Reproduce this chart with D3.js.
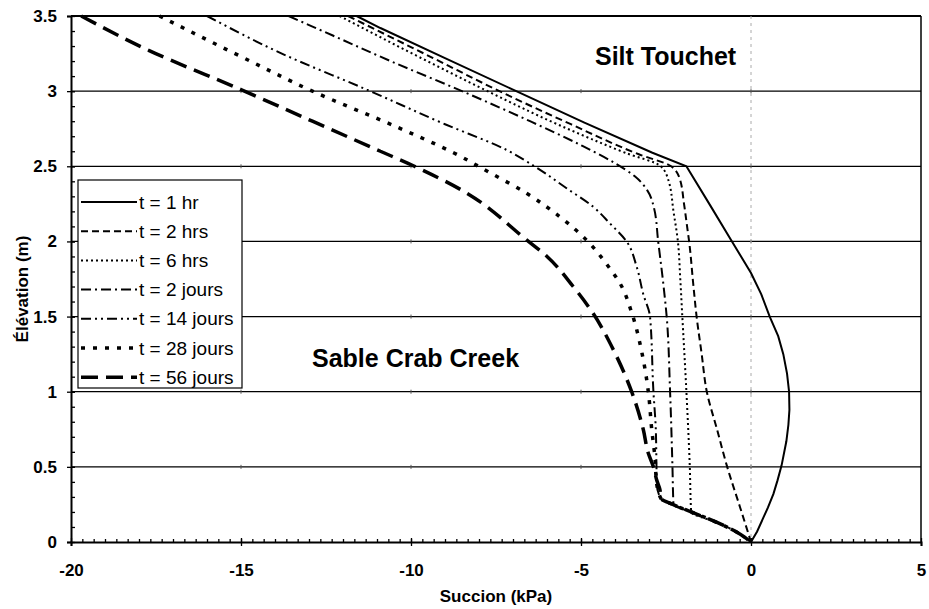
<html>
<script src='https://d3js.org/d3.v7.min.js'></script>
<style>
body { margin: 0; background: white; }
text { font-family: 'Liberation Sans', Arial, sans-serif; }
</style>
<body>
<svg width=929 height=609></svg>
<script>
// succion (kPa), elevation (m)
var t1hr = [[-11.6,3.5],[-10.9,3.42],[-9.0,3.22],[-7.0,3.01],[-4.9,2.79],[-2.9,2.59],[-1.9,2.5],
  [-1.2,2.24],[-0.56,2.0],[0.0,1.79],[0.3,1.65],[0.55,1.5],[0.8,1.37],[0.95,1.25],[1.06,1.12],
  [1.12,1.0],[1.13,0.88],[1.1,0.78],[1.04,0.67],[0.9,0.51],[0.78,0.41],[0.66,0.32],[0.5,0.23],
  [0.36,0.16],[0.18,0.07],[0,0]];
var t2hrs = [[-11.85,3.5],[-9.35,3.22],[-7.4,3.0],[-5.3,2.78],[-3.3,2.58],[-2.35,2.5],[-2.1,2.42],
  [-1.97,2.25],[-1.88,2.1],[-1.82,2.0],[-1.7,1.72],[-1.6,1.5],[-1.45,1.25],[-1.3,1.0],
  [-1.0,0.75],[-0.7,0.5],[-0.32,0.23],[0,0]];
var t6hrs = [[-12.1,3.5],[-9.7,3.22],[-7.75,3.0],[-5.7,2.78],[-3.7,2.59],[-2.65,2.5],[-2.42,2.4],
  [-2.28,2.2],[-2.15,2.0],[-2.08,1.75],[-2.02,1.5],[-1.9,1.0],[-1.8,0.5],[-1.76,0.2],
  [-1.0,0.13],[-0.45,0.07],[0,0]];
var t2j = [[-13.6,3.5],[-12.3,3.37],[-10.6,3.2],[-8.5,3.0],[-6.5,2.8],[-5.0,2.64],[-4.0,2.52],
  [-3.4,2.43],[-3.05,2.34],[-2.85,2.22],[-2.73,2.0],[-2.58,1.72],[-2.48,1.5],[-2.38,1.0],
  [-2.31,0.5],[-2.28,0.25],[-1.76,0.2],[-1.0,0.13],[-0.45,0.07],[0,0]];
var t14j = [[-16.0,3.5],[-13.8,3.25],[-11.3,3.01],[-9.0,2.78],[-7.2,2.61],[-6.3,2.49],[-5.4,2.35],
  [-4.64,2.23],[-4.15,2.12],[-3.66,2.0],[-3.36,1.83],[-3.17,1.65],[-2.97,1.5],[-2.87,1.0],
  [-2.8,0.75],[-2.78,0.5],[-2.77,0.38],[-2.65,0.29],[-2.3,0.25],[-1.76,0.2],[-1.0,0.13],
  [-0.45,0.07],[0,0]];
var t28j = [[-17.4,3.5],[-15.0,3.23],[-12.9,3.0],[-10.4,2.76],[-8.75,2.59],[-7.7,2.46],[-6.6,2.32],
  [-5.6,2.16],[-4.8,2.0],[-4.25,1.85],[-3.85,1.72],[-3.5,1.52],[-3.2,1.25],[-3.02,1.0],
  [-2.92,0.75],[-2.82,0.55],[-2.78,0.4],[-2.65,0.29],[-2.3,0.25],[-1.76,0.2],[-1.0,0.13],
  [-0.45,0.07],[0,0]];
var t56j = [[-19.7,3.5],[-17.7,3.27],[-15.0,3.01],[-12.9,2.8],[-10.9,2.6],[-9.9,2.5],[-8.5,2.34],
  [-6.6,2.01],[-6.0,1.9],[-5.23,1.7],[-4.64,1.52],[-4.05,1.28],[-3.51,1.0],[-3.17,0.75],
  [-3.02,0.59],[-2.87,0.5],[-2.77,0.41],[-2.68,0.35],[-2.65,0.29],[-2.3,0.25],[-1.76,0.2],
  [-1.0,0.13],[-0.45,0.07],[0,0]];

var names = ["t = 1 hr","t = 2 hrs","t = 6 hrs","t = 2 jours","t = 14 jours","t = 28 jours","t = 56 jours"];
var xTicks = [-20,-15,-10,-5,0,5];
var yTicks = [0,0.5,1,1.5,2,2.5,3,3.5];

var series = [t1hr,t2hrs,t6hrs,t2j,t14j,t28j,t56j];
var dashes = [null,"7,4","2,3","10,4,2,4","10,4,2,4,2,4","4,8","17,8"];
var widths = [2,2,2,2,2,3.5,3.5];

var x = d3.scaleLinear().domain([-20,5]).range([71,921]);
var y = d3.scaleLinear().domain([0,3.5]).range([542,16]);

var svg = d3.select("svg");

// gridlines
svg.append("g").selectAll("line").data(yTicks.slice(1))
  .enter().append("line")
  .attr("x1",x(-20)).attr("x2",x(5))
  .attr("y1",function(d){return y(d);}).attr("y2",function(d){return y(d);})
  .attr("stroke","black").attr("stroke-width",function(d){return d==3.5?2:1.2;});

// small marks where x majors cross the gridlines
var cross = [];
yTicks.slice(1,7).forEach(function(a){ xTicks.slice(1,5).forEach(function(b){ cross.push([b,a]); }); });
svg.append("g").selectAll("line").data(cross)
  .enter().append("line")
  .attr("x1",function(d){return x(d[0]);}).attr("x2",function(d){return x(d[0]);})
  .attr("y1",function(d){return y(d[1])-2;}).attr("y2",function(d){return y(d[1])+2;})
  .attr("stroke","#555").attr("stroke-width",1);

// right border
svg.append("line").attr("x1",x(5)).attr("x2",x(5)).attr("y1",y(3.5)).attr("y2",y(0))
  .attr("stroke","black").attr("stroke-width",1.5);

// faint line at zero suction
svg.append("line").attr("x1",x(0)).attr("x2",x(0)).attr("y1",y(3.5)).attr("y2",y(0))
  .attr("stroke","#aaa").attr("stroke-width",1).attr("stroke-dasharray","3,4");

// axes
var yAxis = svg.append("g").attr("transform","translate("+x(-20)+",0)")
  .call(d3.axisLeft(y).tickValues(yTicks).tickSize(4).tickPadding(10).tickFormat(d3.format("")));
var yMinor = svg.append("g").attr("transform","translate("+x(-20)+",0)")
  .call(d3.axisRight(y).tickValues(d3.range(1,35).map(function(i){return i/10;})).tickSize(4).tickFormat(""));
var xAxis = svg.append("g").attr("transform","translate(0,"+y(0)+")")
  .call(d3.axisBottom(x).tickValues(xTicks).tickSize(4).tickPadding(18));
var xMinor = svg.append("g").attr("transform","translate(0,"+y(0)+")")
  .call(d3.axisTop(x).tickValues(d3.range(1,75).map(function(i){return -20+i/3;})).tickSize(3).tickFormat(""));
xAxis.selectAll(".tick line").attr("y1",-4);
yAxis.selectAll(".tick line").attr("x1",4);

svg.selectAll(".domain").attr("stroke","black").attr("stroke-width",2);
yMinor.select(".domain").remove();
xMinor.select(".domain").remove();
svg.selectAll(".tick line").attr("stroke","black").attr("stroke-width",1.3);
svg.selectAll(".tick text").attr("font-size",17).attr("font-weight","bold")
  .attr("font-family","'Liberation Sans', Arial, sans-serif").attr("fill","black");
xAxis.selectAll(".tick text").text(function(d){return d;});

// curves: the 1 hr profile has a sharp break at the layer boundary, the others are smooth
var lineSharp = d3.line()
  .x(function(d){return x(d[0]);}).y(function(d){return y(d[1]);});
var lineSmooth = d3.line().curve(d3.curveMonotoneY)
  .x(function(d){return x(d[0]);}).y(function(d){return y(d[1]);});
svg.append("g").selectAll("path").data(series)
  .enter().append("path")
  .attr("d",function(d,i){return i==0 ? lineSharp(d) : lineSmooth(d);})
  .attr("fill","none").attr("stroke","black")
  .attr("stroke-width",function(d,i){return widths[i];})
  .attr("stroke-dasharray",function(d,i){return dashes[i];});

// region labels
svg.append("text").attr("x",595).attr("y",65).attr("font-size",25).attr("font-weight","bold").text("Silt Touchet");
svg.append("text").attr("x",312).attr("y",367).attr("font-size",25).attr("font-weight","bold").text("Sable Crab Creek");

// axis titles
svg.append("text").attr("x",(x(-20)+x(5))/2).attr("y",602).attr("text-anchor","middle")
  .attr("font-size",17).attr("font-weight","bold").text("Succion (kPa)");
svg.append("text").attr("transform","translate(22,"+(y(1.75)+10)+") rotate(-90)").attr("text-anchor","middle")
  .attr("dominant-baseline","central").attr("font-size",17).attr("font-weight","bold").text("Élévation (m)");

// legend
var legend = svg.append("g").attr("transform","translate(78,180)");
legend.append("rect").attr("width",164).attr("height",208).attr("fill","white")
  .attr("stroke","black").attr("stroke-width",1.2);
var rows = legend.selectAll("g.row").data(names).enter().append("g")
  .attr("transform",function(d,i){return "translate(0,"+(22+i*29.2)+")";});
rows.append("line").attr("x1",3).attr("x2",59).attr("stroke","black")
  .attr("stroke-width",function(d,i){return widths[i];})
  .attr("stroke-dasharray",function(d,i){return dashes[i];});
rows.append("text").attr("x",61).attr("dominant-baseline","central").attr("font-size",19).text(function(d){return d;});
</script>
</body>
</html>
